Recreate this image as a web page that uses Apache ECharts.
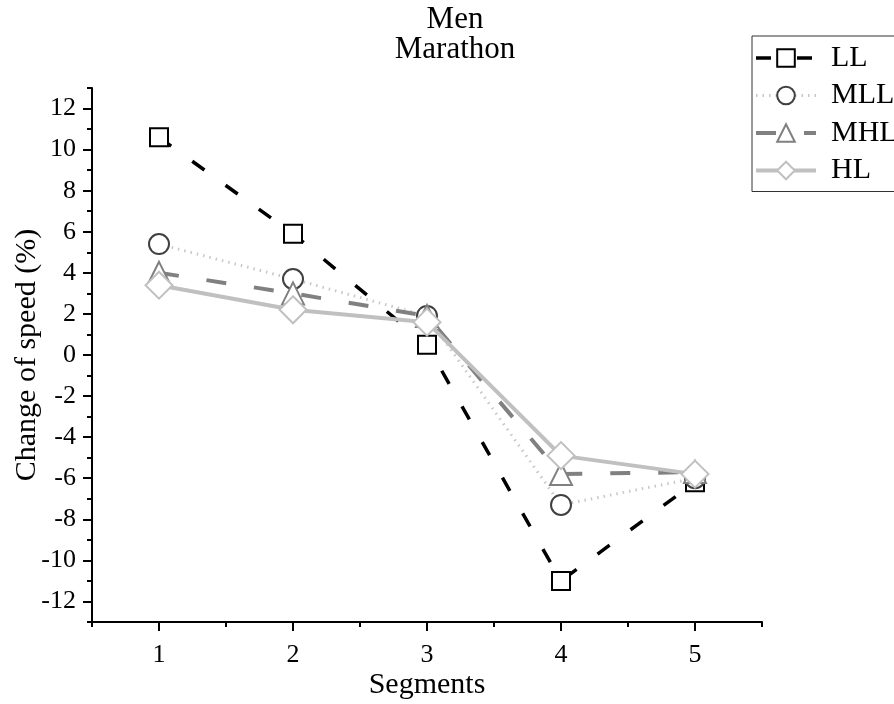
<!DOCTYPE html>
<html>
<head>
<meta charset="utf-8">
<script src="https://cdn.jsdelivr.net/npm/echarts@6/dist/echarts.min.js"></script>
<style>
  html, body { margin: 0; padding: 0; background: #fff; }
  #chart { width: 894px; height: 704px; }
</style>
</head>
<body>
<div id="chart"></div>
<script>
// Segment positions along the course
const segments = [1, 2, 3, 4, 5];

// Change of speed (%) per segment, one list per group
const LL  = [10.6, 5.9, 0.5, -11.0, -6.2];
const MLL = [5.4, 3.7, 1.9, -7.3, -6.0];
const MHL = [4.0, 3.0, 1.9, -5.8, -5.7];
const HL  = [3.4, 2.2, 1.6, -4.9, -5.8];

// Tick labels
const xTickValues = [1, 2, 3, 4, 5];
const yTickValues = [-12, -10, -8, -6, -4, -2, 0, 2, 4, 6, 8, 10, 12];

const FONT = '"Liberation Serif", "Times New Roman", serif';

function pairs(vals) {
  return segments.map((s, i) => [s, vals[i]]);
}

const chart = echarts.init(document.getElementById('chart'), null, { renderer: 'canvas' });

const axisLineStyle = { color: '#000', width: 2 };

chart.setOption({
  animation: false,
  backgroundColor: '#fff',
  title: {
    text: 'Men\nMarathon',
    left: 450,
    top: 0,
    textAlign: 'center',
    textStyle: { fontFamily: FONT, fontWeight: 'normal', fontSize: 31, color: '#000', lineHeight: 30 }
  },
  legend: {
    left: 752,
    top: 36,
    orient: 'vertical',
    padding: [7, 60, 6, 2],
    itemWidth: 60,
    itemHeight: 22,
    itemGap: 7.5,
    borderColor: '#333',
    borderWidth: 1,
    borderRadius: 0,
    textStyle: { fontFamily: FONT, fontSize: 30, color: '#000', padding: [0, 0, 0, 10] },
    data: [
      { name: 'LL', lineStyle: { width: 3.5 } },
      { name: 'MLL', lineStyle: { width: 3 } },
      { name: 'MHL', lineStyle: { width: 4 } },
      { name: 'HL', lineStyle: { width: 4 } }
    ]
  },
  grid: { left: 92, right: 132, top: 88, bottom: 82, containLabel: false, outerBoundsMode: 'none' },
  xAxis: [
    {
      type: 'value',
      min: 0.5,
      max: 5.5,
      name: 'Segments',
      nameLocation: 'middle',
      nameGap: 48,
      nameMoveOverlap: false,
      nameTextStyle: { fontFamily: FONT, fontSize: 30, color: '#000' },
      axisLine: { onZero: false, lineStyle: axisLineStyle },
      axisTick: { show: true, inside: false, length: 9, lineStyle: { color: '#000', width: 2 }, customValues: xTickValues },
      axisLabel: { show: true, margin: 20, fontFamily: FONT, fontSize: 26, color: '#000', customValues: xTickValues },
      splitLine: { show: false }
    },
    {
      // half-step minor ticks
      type: 'value',
      position: 'bottom',
      min: 0.5,
      max: 5.5,
      interval: 0.5,
      axisLine: { show: false, onZero: false },
      axisTick: { show: true, length: 5, lineStyle: { color: '#000', width: 2 } },
      axisLabel: { show: false },
      splitLine: { show: false }
    }
  ],
  yAxis: [
    {
      type: 'value',
      min: -13,
      max: 13,
      name: 'Change of speed (%)',
      nameLocation: 'middle',
      nameGap: 50,
      nameMoveOverlap: false,
      nameTextStyle: { fontFamily: FONT, fontSize: 30, color: '#000' },
      axisLine: { show: true, onZero: false, lineStyle: axisLineStyle },
      axisTick: { show: true, inside: false, length: 9, lineStyle: { color: '#000', width: 2 }, customValues: yTickValues },
      axisLabel: { show: true, margin: 16, fontFamily: FONT, fontSize: 26, color: '#000', customValues: yTickValues },
      splitLine: { show: false }
    },
    {
      // unit minor ticks
      type: 'value',
      position: 'left',
      min: -13,
      max: 13,
      interval: 1,
      axisLine: { show: false, onZero: false },
      axisTick: { show: true, length: 5, lineStyle: { color: '#000', width: 2 } },
      axisLabel: { show: false },
      splitLine: { show: false }
    }
  ],
  series: [
    {
      name: 'LL',
      type: 'line',
      data: pairs(LL),
      symbol: 'rect',
      symbolSize: 18,
      lineStyle: { color: '#000', width: 3.5, type: [15, 26] },
      itemStyle: { color: '#fff', borderColor: '#000', borderWidth: 2 },
      z: 2
    },
    {
      name: 'MLL',
      type: 'line',
      data: pairs(MLL),
      symbol: 'circle',
      symbolSize: 20,
      lineStyle: { color: '#c8c8c8', width: 3, type: [1.5, 5] },
      itemStyle: { color: '#fff', borderColor: '#404040', borderWidth: 2 },
      z: 3
    },
    {
      name: 'MHL',
      type: 'line',
      data: pairs(MHL),
      symbol: 'triangle',
      symbolSize: 22,
      lineStyle: { color: '#808080', width: 4, type: [20, 28] },
      itemStyle: { color: '#fff', borderColor: '#808080', borderWidth: 2 },
      z: 4
    },
    {
      name: 'HL',
      type: 'line',
      data: pairs(HL),
      symbol: 'diamond',
      symbolSize: 27,
      lineStyle: { color: '#c0c0c0', width: 4, type: 'solid' },
      itemStyle: { color: '#fff', borderColor: '#c0c0c0', borderWidth: 2 },
      z: 5
    }
  ]
});
</script>
</body>
</html>
